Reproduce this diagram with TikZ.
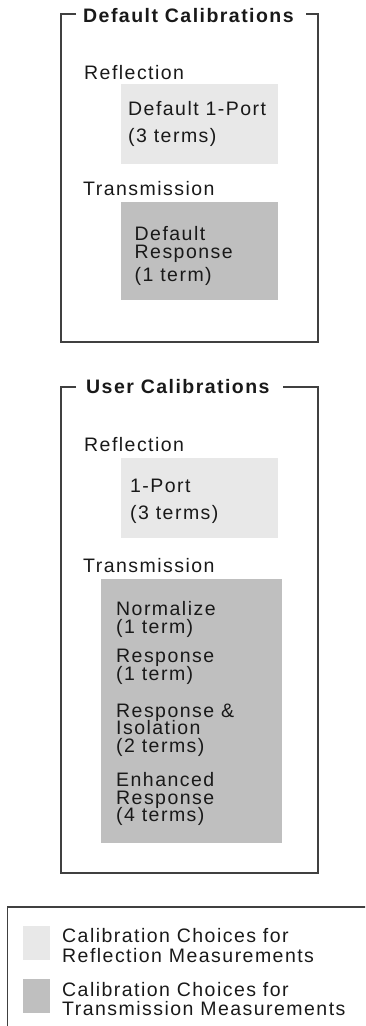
\documentclass[tikz,border=0pt]{standalone}
\usepackage{fontspec}
\setmainfont{Liberation Sans}[LetterSpace=7.5]

\tikzset{
  frame/.style={draw=black!75, line width=1.6pt},
  grouptitle/.style={font=\fontsize{19.5}{17.5}\selectfont\bfseries, text=black!90, inner sep=0pt, anchor=base west},
  sublabel/.style={font=\fontsize{19.5}{17.5}\selectfont\lineskiplimit-30pt\relax, text=black!90, inner sep=0pt, anchor=base west},
  entry/.style={sublabel, align=left},
  reflbox/.style={fill=black!9, inner sep=0pt, anchor=north west},
  transbox/.style={fill=black!25, inner sep=0pt, anchor=north west},
}

\begin{document}
\begin{tikzpicture}[x=1pt,y=-1pt]
  \useasboundingbox (0,0) rectangle (365,1026);
  \clip (0,0) rectangle (365,1026);

  % default calibrations (entries sit on the baseline of their last line)
  \node[grouptitle] (deftitle) at (83,22.5) {Default Calibrations};
  \draw[frame] (76,14) -- (61,14) -- (61,342) -- (318,342) -- (318,14) -- (306,14);
  \node[sublabel] (defrefl) at (84,79) {Reflection};
  \node[reflbox, minimum width=157pt, minimum height=80pt] (defreflbox) at (121,84) {};
  \node[entry] (defrefltext) at (128,142.7) {Default 1-Port\\[10.2pt](3 terms)};
  \node[sublabel] (deftrans) at (83,195) {Transmission};
  \node[transbox, minimum width=157pt, minimum height=98pt] (deftransbox) at (121,202) {};
  \node[entry] (deftranstext) at (134.5,281.5) {Default\\Response\\[6pt](1 term)};

  % user calibrations
  \node[grouptitle] (usertitle) at (86,393.3) {User Calibrations};
  \draw[frame] (76,386.7) -- (61,386.7) -- (61,873) -- (318,873) -- (318,386.7) -- (283,386.7);
  \node[sublabel] (userrefl) at (84,451) {Reflection};
  \node[reflbox, minimum width=157pt, minimum height=80pt] (userreflbox) at (121,458) {};
  \node[entry] (userrefltext) at (130,519.4) {1-Port\\[9.2pt](3 terms)};
  \node[sublabel] (usertrans) at (83,572.7) {Transmission};
  \node[transbox, minimum width=181pt, minimum height=264pt] (usertransbox) at (101,579) {};
  \node[entry] (usertranstext) at (116,821.5) {Normalize\\(1 term)\\[12pt]Response\\(1 term)\\[19.5pt]Response \&\\Isolation\\(2 terms)\\[17pt]Enhanced\\Response\\(4 terms)};

  % legend
  \draw[frame] (370,907) -- (7.5,907) -- (7.5,1030);
  \node[reflbox, minimum width=27pt, minimum height=34pt] (reflswatch) at (23,926) {};
  \node[entry] (reflkey) at (62,962) {Calibration Choices for\\[2pt]Reflection Measurements};
  \node[transbox, minimum width=27pt, minimum height=34pt] (transswatch) at (23,979) {};
  \node[entry] (transkey) at (62,1015.5) {Calibration Choices for\\[1.5pt]Transmission Measurements};
\end{tikzpicture}
\end{document}
